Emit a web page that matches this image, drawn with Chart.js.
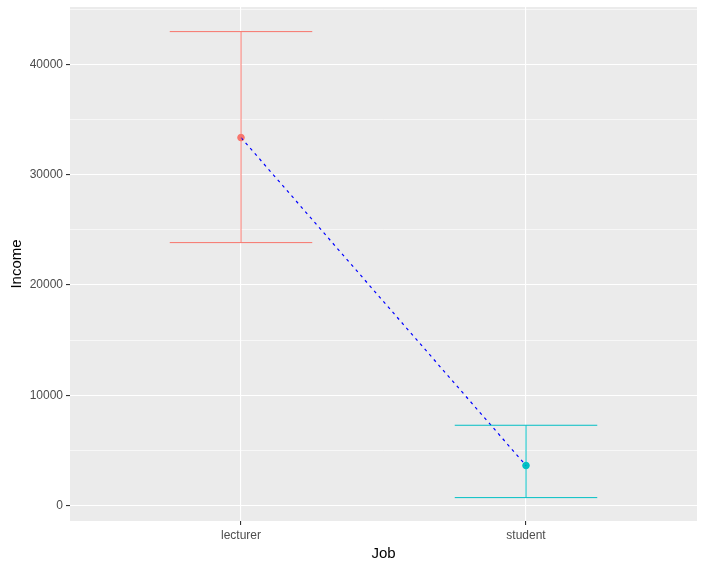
<!DOCTYPE html>
<html lang="en">
<head>
  <meta charset="UTF-8">
  <title>Income by Job</title>
  <script src="https://cdn.jsdelivr.net/npm/chart.js"></script>
  <style>
    body { margin: 0; background: #fff; }
    #chart { display: block; }
  </style>
</head>
<body>
  <canvas id="chart" width="707" height="571"></canvas>
  <script>
    const jobs = ["lecturer", "student"];
    const meanIncome = [33360, 3630];
    const lowIncome = [23840, 720];
    const highIncome = [42970, 7280];
    const colors = ["#F8766D", "#00BFC4"];
    const yTicks = [0, 10000, 20000, 30000, 40000];

    const capHalf = 0.25;
    const datasets = [];

    // error bars: vertical stem + two caps per job
    jobs.forEach((job, i) => {
      const x = i + 1;
      const base = { borderColor: colors[i], borderWidth: 1, pointRadius: 0, showLine: true, fill: false };
      datasets.push({ ...base, data: [{ x: x, y: lowIncome[i] }, { x: x, y: highIncome[i] }] });
      datasets.push({ ...base, data: [{ x: x - capHalf, y: highIncome[i] }, { x: x + capHalf, y: highIncome[i] }] });
      datasets.push({ ...base, data: [{ x: x - capHalf, y: lowIncome[i] }, { x: x + capHalf, y: lowIncome[i] }] });
    });

    // dashed line through means
    datasets.push({
      data: meanIncome.map((v, i) => ({ x: i + 1, y: v })),
      borderColor: "#0000FF",
      borderWidth: 1.2,
      borderDash: [3, 4],
      pointRadius: 0,
      showLine: true,
      fill: false
    });

    // mean points
    datasets.push({
      data: meanIncome.map((v, i) => ({ x: i + 1, y: v })),
      pointBackgroundColor: colors,
      pointBorderColor: colors,
      pointRadius: 3.3,
      showLine: false
    });

    const panelBg = {
      id: "panelBg",
      beforeDraw(chart) {
        const a = chart.chartArea;
        const ctx = chart.ctx;
        ctx.save();
        ctx.fillStyle = "#EBEBEB";
        ctx.fillRect(a.left, a.top, a.right - a.left, a.bottom - a.top);
        ctx.restore();
      }
    };

    new Chart(document.getElementById("chart"), {
      type: "scatter",
      data: { datasets: datasets },
      plugins: [panelBg],
      options: {
        responsive: false,
        animation: false,
        layout: { padding: { top: 7, right: 10, left: 0, bottom: 0 } },
        plugins: { legend: { display: false }, tooltip: { enabled: false } },
        scales: {
          x: {
            type: "linear",
            min: 0.4,
            max: 2.6,
            afterBuildTicks: s => { s.ticks = jobs.map((j, i) => ({ value: i + 1 })); },
            afterFit: s => { s.height = 50; s.paddingLeft = 0; s.paddingRight = 0; },
            ticks: {
              callback: v => jobs[v - 1],
              color: "#4D4D4D",
              font: { family: "Liberation Sans, Arial", size: 12 },
              padding: 3
            },
            grid: { color: "#FFFFFF", lineWidth: 1.1, tickColor: "#333333", tickLength: 4, drawOnChartArea: true },
            border: { display: false },
            title: {
              display: true,
              text: "Job",
              color: "#000000",
              font: { family: "Liberation Sans, Arial", size: 15 },
              padding: { top: 4, bottom: 8 }
            }
          },
          y: {
            min: -1400,
            max: 45200,
            afterBuildTicks: s => {
              const t = [];
              for (let v = 0; v <= 45000; v += 5000) t.push({ value: v });
              s.ticks = t;
            },
            afterFit: s => { s.width = 70; s.paddingTop = 0; s.paddingBottom = 0; },
            ticks: {
              callback: v => (yTicks.includes(v) ? String(v) : ""),
              color: "#4D4D4D",
              font: { family: "Liberation Sans, Arial", size: 12 },
              padding: 3
            },
            grid: {
              color: "#FFFFFF",
              lineWidth: c => (yTicks.includes(c.tick && c.tick.value) ? 1.1 : 0.6),
              tickColor: c => (yTicks.includes(c.tick && c.tick.value) ? "#333333" : "rgba(0,0,0,0)"),
              tickLength: 4
            },
            border: { display: false },
            title: {
              display: true,
              text: "Income",
              color: "#000000",
              font: { family: "Liberation Sans, Arial", size: 15 },
              padding: { top: 8, bottom: 4 }
            }
          }
        }
      }
    });
  </script>
</body>
</html>
